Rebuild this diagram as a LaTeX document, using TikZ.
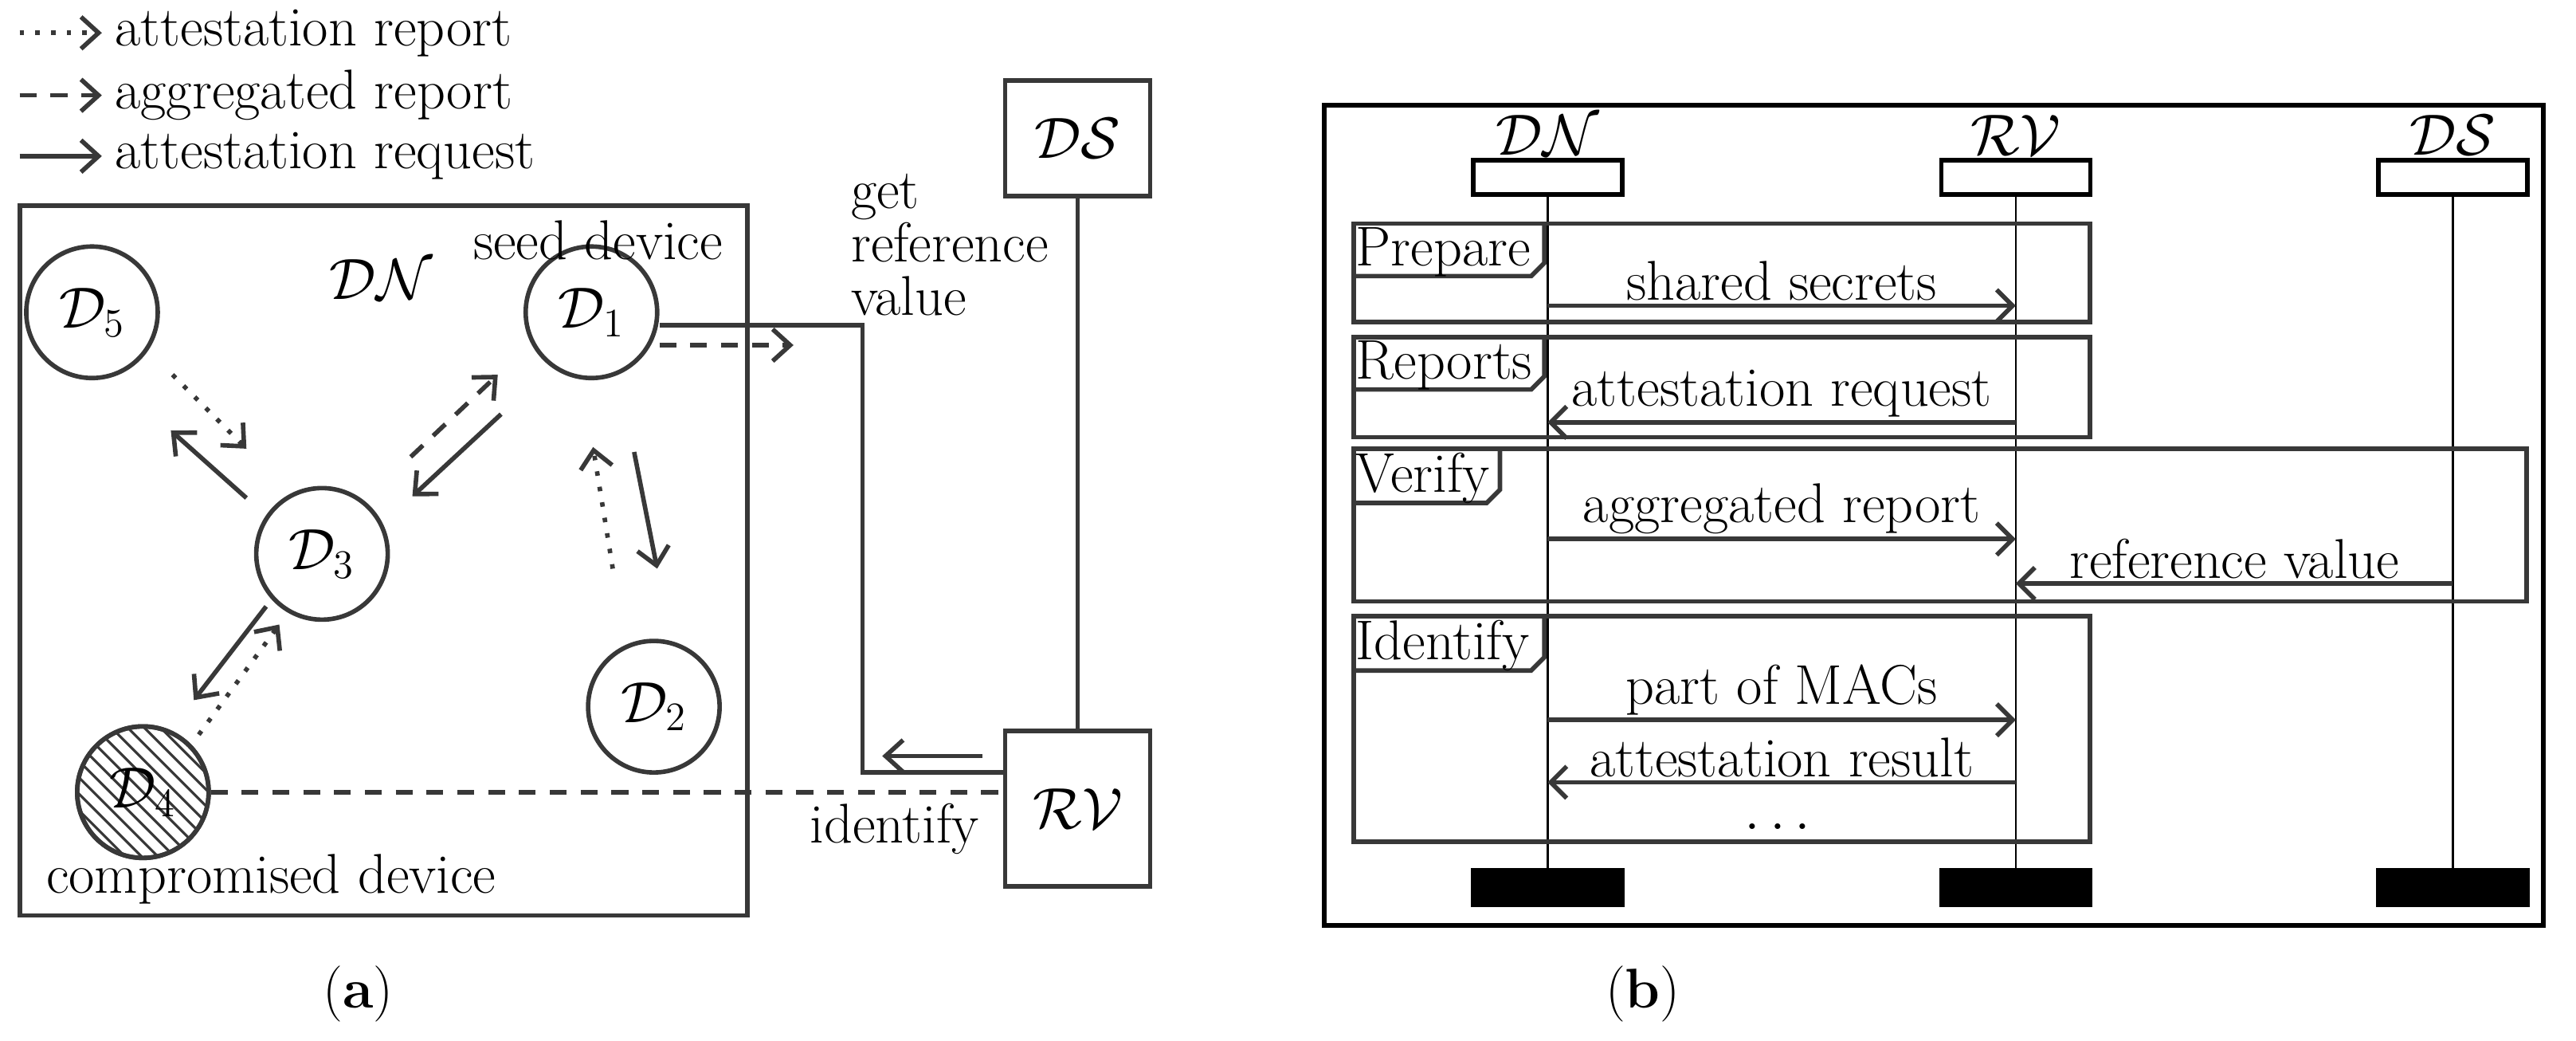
\documentclass[tikz,border=0pt]{standalone}
\usepackage{amsmath}
\usepackage{tikz}
\usetikzlibrary{arrows.meta, positioning}
\definecolor{ink}{HTML}{383838}
\tikzstyle{label} = [font=\fontsize{20}{21}\selectfont, inner sep=1pt, text=black]
\tikzstyle{device} = [draw=ink, line width=1.6pt, circle, minimum size=1.65cm, inner sep=0pt, font=\fontsize{20}{21}\selectfont]
\tikzstyle{entity} = [draw=ink, line width=1.6pt, rectangle, minimum width=1.82cm, font=\fontsize{20}{21}\selectfont]
\tikzstyle{link} = [draw=ink, line width=1.6pt, -{Straight Barb[length=2.2mm, width=4mm]}]
\tikzstyle{request} = [link]
\tikzstyle{report} = [link, dotted, dash pattern=on 1.6pt off 4pt]
\tikzstyle{aggregate} = [link, dash pattern=on 6pt off 5pt]
\tikzstyle{head} = [draw=black, line width=1.6pt, minimum width=1.87cm, minimum height=0.43cm, inner sep=0pt]
\tikzstyle{tail} = [head, fill=black]
\tikzstyle{frame} = [draw=ink, line width=1.6pt]
\tikzstyle{message} = [draw=ink, line width=1.6pt, -{Straight Barb[length=2mm, width=4mm]}]

\begin{document}
\begin{tikzpicture}[x=0.02062cm, y=-0.02062cm, node distance=2mm]
    \useasboundingbox (0, 0) rectangle (1568, 633);

    % Legend.
    \foreach \y/\s/\t in {20/report/attestation report, 58/aggregate/aggregated report, 95/request/attestation request} {
        \coordinate (legend start \y) at (12, \y);
        \coordinate (legend end \y) at (62, \y);
        \draw [\s] (legend start \y) -- (legend end \y);
        \node [label, anchor=west] at (68, \y) {\t};
    }

    % Network.
    \draw [frame] (12, 125) rectangle (455, 557);
    \node (net) [label] at (232, 170) {$\mathcal{DN}$};

    \node (device 1) [device] at (360, 190) {$\mathcal{D}_1$};
    \node (device 2) [device] at (398, 430) {$\mathcal{D}_2$};
    \node (device 3) [device] at (196, 337) {$\mathcal{D}_3$};
    \node (device 4) [device] at (87, 482) {};
    \node (device 5) [device] at (56, 190) {$\mathcal{D}_5$};

    \begin{scope}
        \clip (device 4) circle (39);
        \foreach \i in {-100, -90, ..., 100} {
            \draw [ink, line width=0.9pt] (87 + \i - 50, 432) -- (87 + \i + 50, 532);
        }
    \end{scope}
    \node [device] at (device 4) {$\mathcal{D}_4$};

    \node [label] at (364, 146) {seed device};
    \node [label] at (165, 535) {compromised device};

    % Servers.
    \node (ds) [entity, minimum height=1.45cm] at (656, 84) {$\mathcal{DS}$};
    \node (rv) [entity, minimum height=1.95cm] at (656, 492) {$\mathcal{RV}$};
    \draw [frame] (ds) -- (rv);

    \node [label, anchor=north west, align=left, font=\fontsize{20}{19}\selectfont] at (516, 104) {get\\reference\\value};
    \node [label, anchor=north east] at (598, 487) {identify};

    % Connections.
    \draw [report] (105, 228) -- (150, 273);
    \draw [request] (150, 303) -- (104, 262);
    \draw [aggregate] (250, 278) -- (303, 228);
    \draw [request] (305, 252) -- (251, 302);
    \draw [report] (373, 346) -- (361, 272);
    \draw [request] (386, 275) -- (400, 346);
    \draw [request] (162, 369) -- (118, 426);
    \draw [report] (121, 447) -- (170, 380);
    \draw [aggregate] (device 1.east |- 0, 210) -- (483, 210);

    \draw [frame] (device 1.east |- 0, 198) -- (525, 198) -- (525, 470) -- (rv.west |- 0, 470);
    \draw [request] (598, 460) -- (537, 460);
    \draw [draw=ink, line width=1.6pt, dash pattern=on 6pt off 5pt] (device 4.east) -- (rv.west |- device 4.east);

    \node [font=\fontsize{20}{21}\selectfont] at (218, 605) {(\textbf{a})};

    % Sequence.
    \draw [black, line width=1.6pt] (806, 64) rectangle (1548, 563);
    \foreach \x/\n/\t in {942/dn/\mathcal{DN}, 1227/rv/\mathcal{RV}, 1493/ds/\mathcal{DS}} {
        \node (head \n) [head] at (\x, 108) {};
        \node [label, above=0mm of head \n] {$\t$};
        \node (tail \n) [tail] at (\x, 540) {};
        \draw [black, line width=0.8pt] (head \n) -- (tail \n);
    }

    \foreach \top/\bot/\right/\tag/\cut/\t in {136/196/1272/168/940/Prepare, 205/266/1272/237/940/Reports, 273/366/1538/306/913/Verify, 375/512/1272/408/940/Identify} {
        \draw [frame] (824, \top) rectangle (\right, \bot);
        \draw [frame] (824, \tag) -- (\cut - 8, \tag) -- (\cut, \tag - 8) -- (\cut, \top);
        \node [label, anchor=north west, inner sep=0pt] at (825, \top + 2) {\t};
    }

    \foreach \y/\a/\b/\t in {186/dn/rv/shared secrets, 257/rv/dn/attestation request, 328/dn/rv/aggregated report, 355/ds/rv/reference value, 438/dn/rv/part of MACs, 476/rv/dn/attestation result} {
        \coordinate (msg start \y) at (head \a |- 0, \y);
        \coordinate (msg end \y) at (head \b |- 0, \y);
        \draw [message] (msg start \y) -- node [label, above=0mm] {\t} (msg end \y);
    }
    \node [label] at (1085, 503) {$\dots$};

    \node [font=\fontsize{20}{21}\selectfont] at (1000, 605) {(\textbf{b})};
\end{tikzpicture}
\end{document}
